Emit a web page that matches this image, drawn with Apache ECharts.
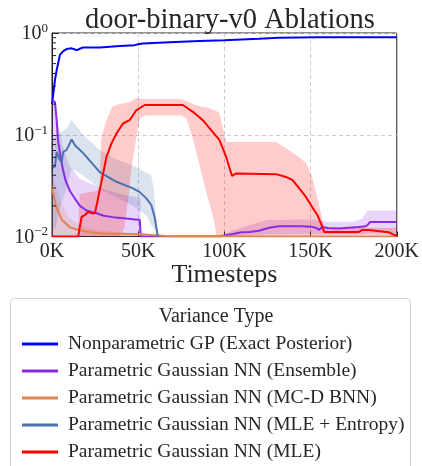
<!DOCTYPE html>
<html>
<head>
<meta charset="utf-8">
<script src="https://cdn.jsdelivr.net/npm/echarts@6/dist/echarts.min.js"></script>
<style>html,body{margin:0;padding:0;background:#fff}#c{width:422px;height:466px}</style>
</head>
<body>
<div id="c"></div>
<script>
// ---- data (timesteps in K) ----
var names = ['Nonparametric GP (Exact Posterior)','Parametric Gaussian NN (Ensemble)','Parametric Gaussian NN (MC-D BNN)','Parametric Gaussian NN (MLE + Entropy)','Parametric Gaussian NN (MLE)'];
var colors = ['#0000ff','#8a2be2','#dd8452','#4c72b0','#ff0000'];
var bandColors = ['rgba(0,0,255,0.15)','rgba(138,43,226,0.2)','rgba(221,132,82,0.2)','rgba(76,114,176,0.2)','rgba(255,0,0,0.2)'];
var xTicks = [0,50,100,150,200];
var yTicks = [0.01,0.1,1];
var yMinorTicks = [0.02,0.03,0.04,0.05,0.06,0.07,0.08,0.09,0.2,0.3,0.4,0.5,0.6,0.7,0.8,0.9];

var gpT = [0,1.7,2.7,4.6,6.5,8.5,9.4,11.4,13.3,14.5,16.2,17.9,27.7,39.3,48,50,52.6,68.2,85.5,100,120,131.5,154.9,200];
var gpV = [0.20,0.345,0.43,0.61,0.665,0.696,0.71,0.707,0.688,0.68,0.70,0.72,0.72,0.745,0.76,0.775,0.79,0.812,0.834,0.85,0.88,0.90,0.91,0.91];

var ensT = [0,1.7,2.7,3.5,5,6.4,8,10.4,13,16.2,20,25.8,30,35.3,43.2,47,50.9,51.5,60,80,98,101,105,110,114.5,120,126,131.8,145,150,153,155,156.6,160,166.5,172,178,182,183.5,184.5,200];
var ensV = [0.22,0.21,0.139,0.088,0.06,0.045,0.035,0.028,0.024,0.020,0.018,0.0169,0.016,0.0155,0.015,0.0148,0.0145,0.01,0.01,0.01,0.01,0.0103,0.0106,0.011,0.0111,0.0114,0.0122,0.0126,0.0126,0.0125,0.0122,0.0116,0.0124,0.0121,0.012,0.0122,0.0124,0.0126,0.0132,0.0139,0.0139];
var ensBandT  = [0,2,3.5,6,10,16,28,40,50.9,51.4,51.5,97,98,105,115,125,150,160,175,180,183,200];
var ensBandLo = [0.01,0.01,0.01,0.01,0.01,0.01,0.01,0.01,0.01,0.01,0.01,0.01,0.01,0.01,0.0102,0.0105,0.0106,0.0105,0.0105,0.0105,0.0107,0.0107];
var ensBandHi = [0.24,0.2,0.13,0.08,0.05,0.037,0.03,0.026,0.024,0.024,0.01,0.01,0.0103,0.0115,0.013,0.0145,0.0147,0.014,0.014,0.015,0.018,0.018];

var mcdT = [0,1,2.5,5.8,10.4,16,22,30,51,60,70,200];
var mcdV = [0.031,0.025,0.0195,0.0145,0.0123,0.0115,0.011,0.0107,0.0105,0.0103,0.01,0.01];
var mcdBandT  = [0,2,5,10,20,40,60,70];
var mcdBandLo = [0.01,0.01,0.01,0.01,0.01,0.01,0.01,0.01];
var mcdBandHi = [0.045,0.032,0.022,0.015,0.012,0.011,0.0105,0.01];

var entT = [0.5,1.7,2.7,4.2,5.6,6.5,8.5,11.4,13.3,18.1,27.7,37.4,47,50.9,54.7,57.6,59.5,61.4];
var entV = [0.048,0.0485,0.068,0.058,0.054,0.068,0.071,0.090,0.079,0.066,0.043,0.0345,0.0297,0.0273,0.0237,0.0204,0.0156,0.01];
var entBandT  = [0.5,2,5,8.5,11,13,18,28,37.5,47,55,57.5,59,60.5,61.5];
var entBandLo = [0.012,0.012,0.02,0.03,0.045,0.045,0.04,0.029,0.024,0.02,0.016,0.013,0.012,0.011,0.01];
var entBandHi = [0.06,0.1,0.105,0.115,0.14,0.13,0.1,0.07,0.057,0.05,0.042,0.04,0.03,0.015,0.01];

var mleT = [0,15.2,17.2,19,21,23,24.9,26,27.7,29.7,31.6,34.5,37.4,41.2,45,49,53.8,68,75.9,81.7,87.5,92.3,97.1,101,104.4,106.8,130,135.7,139.5,143.4,147.2,151,154,156.8,157.8,178,180,183.8,184.8,195.4,199.3,200];
var mleV = [0.01,0.01,0.0156,0.0162,0.0175,0.0169,0.0169,0.0175,0.0286,0.0417,0.0607,0.0823,0.103,0.129,0.139,0.175,0.196,0.196,0.196,0.168,0.139,0.111,0.089,0.0607,0.0393,0.0417,0.041,0.0385,0.0359,0.0298,0.0246,0.0194,0.0162,0.0124,0.0111,0.0111,0.0116,0.0116,0.0111,0.011,0.0102,0.0102];
var mleBandT  = [15,16,20,26,27.5,28.5,31,35,39,42,45,46,49,51,54,75,78,82,86,90,94,95.5,97,101,104,130,137.6,143.4,147.4,150.9,153.8,156.6,157.8,158.5,200];
var mleBandLo = [0.01,0.01,0.01,0.01,0.01,0.01,0.01,0.01,0.01,0.012,0.03,0.045,0.095,0.145,0.155,0.155,0.145,0.0887,0.047,0.0255,0.0145,0.01,0.01,0.01,0.01,0.01,0.01,0.01,0.01,0.01,0.01,0.01,0.01,0.0102,0.0102];
var mleBandHi = [0.01,0.026,0.027,0.028,0.03,0.09,0.13,0.19,0.2,0.205,0.21,0.215,0.23,0.225,0.225,0.225,0.215,0.20,0.19,0.185,0.175,0.17,0.165,0.085,0.085,0.085,0.0704,0.060,0.0527,0.0385,0.0245,0.0155,0.0125,0.0122,0.0122];

var lines = [[gpT,gpV],[ensT,ensV],[mcdT,mcdV],[entT,entV],[mleT,mleV]];
var bands = [null,[ensBandT,ensBandLo,ensBandHi],[mcdBandT,mcdBandLo,mcdBandHi],[entBandT,entBandLo,entBandHi],[mleBandT,mleBandLo,mleBandHi]];

var FONT = 'Liberation Serif';
var TXT = '#262626';

function bandSeries(b, color, name){
  var T=b[0], LO=b[1], HI=b[2];
  return {
    type:'custom', name:name, silent:true, clip:true, z:1,
    data: T.map(function(t,i){return [t*1000, LO[i], HI[i]];}),
    encode:{x:0, y:[1,2]},
    renderItem:function(params, api){
      if (params.dataIndex !== 0) return null;
      var pts=[], i;
      for (i=0;i<T.length;i++) pts.push(api.coord([T[i]*1000, HI[i]]));
      for (i=T.length-1;i>=0;i--) pts.push(api.coord([T[i]*1000, LO[i]]));
      return {type:'polygon', shape:{points:pts}, style:{fill:color}};
    }
  };
}

var series = [];
bands.forEach(function(b,k){ if(b) series.push(bandSeries(b, bandColors[k], 'band'+k)); });
lines.forEach(function(l,k){
  series.push({
    type:'line', name:names[k], showSymbol:false, clip:true, z:3+k,
    lineStyle:{color:colors[k], width:2}, itemStyle:{color:colors[k]},
    data: l[0].map(function(t,i){return [t*1000, l[1][i]];})
  });
});
// minor ticks on the log axis (drawn through the axis scale)
series.push({
  type:'custom', name:'minor', silent:true, clip:false, z:10,
  data: yMinorTicks.map(function(v){return [0, v];}),
  encode:{x:0,y:1},
  renderItem:function(params, api){
    var p = api.coord([0, api.value(1)]);
    return {type:'line', shape:{x1:p[0], y1:p[1], x2:p[0]+4, y2:p[1]}, style:{stroke:'#222', lineWidth:1}};
  }
});

var chart = echarts.init(document.getElementById('c'), null, {renderer:'canvas'});
chart.setOption({
  animation:false,
  backgroundColor:'#fff',
  title:[
    {text:'door-binary-v0 Ablations', left:225, top:1, textAlign:'center',
     textStyle:{fontFamily:FONT, fontSize:28.5, fontWeight:'normal', color:TXT}},
    {text:'Variance Type', left:211, top:302, textAlign:'center',
     textStyle:{fontFamily:FONT, fontSize:20, fontWeight:'normal', color:TXT}}
  ],
  graphic:[{type:'rect', left:10, top:298, z:-10, shape:{width:400, height:200, r:4}, style:{fill:'#fff', stroke:'#d0d0d0', lineWidth:1}}],
  legend:{
    orient:'vertical', left:17, top:328, height:160, itemWidth:36, itemHeight:3, itemGap:5, icon:'rect',
    data:names,
    textStyle:{fontFamily:FONT, fontSize:19.5, color:TXT, lineHeight:22, padding:[0,0,0,5]}
  },
  grid:{left:52, right:24, top:33, height:203.5, show:true, borderColor:'#222', borderWidth:1, containLabel:false},
  xAxis:{
    type:'value', min:0, max:200000, interval:50000,
    name:'Timesteps', nameLocation:'middle', nameGap:25,
    nameTextStyle:{fontFamily:FONT, fontSize:26, color:TXT},
    axisLine:{show:true, lineStyle:{color:'#222'}},
    axisTick:{show:true, inside:true, length:5, lineStyle:{color:'#222'}},
    axisLabel:{fontFamily:FONT, fontSize:20, color:TXT, margin:5, formatter:function(v){return (v/1000)+'K';}},
    splitLine:{show:true, lineStyle:{color:'#cccccc', type:[4,3], width:1}}
  },
  yAxis:{
    type:'log', logBase:10, min:0.01, max:1,
    axisLine:{show:true, lineStyle:{color:'#222'}},
    axisTick:{show:true, inside:true, length:7, lineStyle:{color:'#222'}},
    axisLabel:{margin:4, formatter:function(v){
        var e=Math.round(Math.log(v)/Math.LN10);
        return '{b|10}{s|'+(e===0?'0':'\u2212'+(-e))+'}';
      },
      rich:{b:{fontFamily:FONT, fontSize:20, color:TXT, verticalAlign:'bottom'},
            s:{fontFamily:FONT, fontSize:13, color:TXT, verticalAlign:'bottom', padding:[0,0,9,0]}}},
    splitLine:{show:true, lineStyle:{color:'#cccccc', type:[4,3], width:1}}
  },
  series:series
});
</script>
</body>
</html>
